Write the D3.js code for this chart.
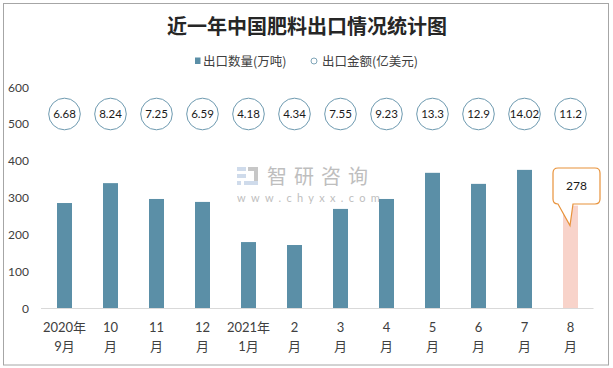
<!DOCTYPE html>
<html><head><meta charset="utf-8">
<script src="https://cdn.jsdelivr.net/npm/d3@7"></script>
<style>
html,body{margin:0;padding:0;background:#fff;}
svg{display:block;}
text{font-family:Lato,"Noto Sans CJK SC",sans-serif;}
</style></head>
<body>
<script>
const categories = ["2020年\n9月","10\n月","11\n月","12\n月","2021年\n1月","2\n月","3\n月","4\n月","5\n月","6\n月","7\n月","8\n月"];
const quantity = [285, 339, 296, 288, 179, 171, 269, 296, 367, 337, 375, 278];
const amount = ["6.68","8.24","7.25","6.59","4.18","4.34","7.55","9.23","13.3","12.9","14.02","11.2"];
const yTicks = [0,100,200,300,400,500,600];
const title = "近一年中国肥料出口情况统计图";
const legendNames = ["出口数量(万吨)","出口金额(亿美元)"];

const W=613,H=368;
const svg=d3.select("body").append("svg").attr("width",W).attr("height",H);
svg.append("rect").attr("x",3.5).attr("y",3.5).attr("width",605).attr("height",361.5)
  .attr("fill","#fff").attr("stroke","#a6a6a6").attr("stroke-width",1);

svg.append("text").attr("x",307).attr("y",34).attr("text-anchor","middle")
  .attr("font-size",20).attr("font-weight","bold").attr("fill","#262626")
  .style("font-family","'Noto Sans CJK SC',sans-serif").text(title);

// legend
svg.append("rect").attr("x",195).attr("y",57.5).attr("width",5.5).attr("height",6.5).attr("fill","#5b8fa7");
svg.append("text").attr("x",203).attr("y",65.5).attr("font-size",12.5).attr("fill","#404040")
  .style("font-family","'Noto Sans CJK SC',sans-serif").text(legendNames[0]);
svg.append("circle").attr("cx",314).attr("cy",61).attr("r",3).attr("fill","#fff").attr("stroke","#7fa5b8").attr("stroke-width",1);
svg.append("text").attr("x",322).attr("y",65.5).attr("font-size",12.5).attr("fill","#404040")
  .style("font-family","'Noto Sans CJK SC',sans-serif").text(legendNames[1]);

const x=d3.scaleBand().domain(categories).range([41.5,593.5]).paddingInner(0.674).paddingOuter(0.337);
const y=d3.scaleLinear().domain([0,600]).range([308,87]);

// watermark
const wm=svg.append("g").attr("opacity",0.55);
wm.append("rect").attr("x",237).attr("y",167).attr("width",9).attr("height",4).attr("fill","#a9bfdc");
wm.append("rect").attr("x",237).attr("y",174).attr("width",9).attr("height",4).attr("fill","#a9bfdc");
wm.append("rect").attr("x",237).attr("y",181).attr("width",4).attr("height",4).attr("fill","#a9bfdc");
wm.append("rect").attr("x",248).attr("y",167).attr("width",10).attr("height",4).attr("fill","#9a9a9a");
wm.append("rect").attr("x",254).attr("y",167).attr("width",4).attr("height",18).attr("fill","#9a9a9a");
wm.append("rect").attr("x",244).attr("y",181).attr("width",14).attr("height",4).attr("fill","#a9bfdc");
wm.append("text").attr("x",267).attr("y",184).attr("font-size",20).attr("letter-spacing",7).attr("fill","#8a8a8a")
  .style("font-family","'Noto Sans CJK SC',sans-serif").text("智研咨询");
wm.append("text").attr("x",237).attr("y",202).attr("font-size",11).attr("letter-spacing",5.3).attr("fill","#8a8a8a")
  .text("www.chyxx.com");

// y axis labels
svg.append("g").selectAll("text").data(yTicks).join("text")
  .attr("x",29).attr("y",d=>y(d)+4.5).attr("text-anchor","end")
  .attr("font-size",12).attr("fill","#404040").text(d=>d);

// bars
svg.append("g").selectAll("rect").data(quantity).join("rect")
  .attr("x",(d,i)=>x(categories[i])).attr("width",x.bandwidth())
  .attr("y",d=>y(d)).attr("height",d=>y(0)-y(d))
  .attr("fill",(d,i)=>i===categories.length-1?"#f8d3ca":"#5b8fa7");

// baseline
svg.append("line").attr("x1",41).attr("x2",593.5).attr("y1",308.5).attr("y2",308.5)
  .attr("stroke","#d9d9d9").attr("stroke-width",1);

// x labels
const xl=svg.append("g").selectAll("text").data(categories).join("text")
  .attr("text-anchor","middle").attr("font-size",13).attr("fill","#404040")
  .style("font-family","Lato,'Noto Sans CJK SC',sans-serif");
xl.each(function(d){
  const t=d3.select(this); const cx=x(d)+x.bandwidth()/2;
  d.split("\n").forEach((s,k)=>{
    t.append("tspan").attr("x",cx).attr("y",332+k*19).text(s);
  });
});

// amount circles
const cg=svg.append("g").selectAll("g").data(amount).join("g")
  .attr("transform",(d,i)=>`translate(${x(categories[i])+x.bandwidth()/2},114)`);
cg.append("circle").attr("r",15.8).attr("fill","#fff").attr("stroke","#6e9ab0").attr("stroke-width",1);
cg.append("text").attr("text-anchor","middle").attr("y",4).attr("font-size",11.5).attr("fill","#1a1a1a").text(d=>d);

// callout for last bar
const li=categories.length-1;
const cx=x(categories[li])+x.bandwidth()/2;
const tipY=y(quantity[li])+20;
const bx=553,by=168,bw=47,bh=36,r=5;
const p=d3.path();
p.moveTo(bx+r,by);
p.lineTo(bx+bw-r,by); p.quadraticCurveTo(bx+bw,by,bx+bw,by+r);
p.lineTo(bx+bw,by+bh-r); p.quadraticCurveTo(bx+bw,by+bh,bx+bw-r,by+bh);
p.lineTo(cx+2.5,by+bh); p.lineTo(cx-0.5,tipY); p.lineTo(cx-12.5,by+bh);
p.lineTo(bx+r,by+bh); p.quadraticCurveTo(bx,by+bh,bx,by+bh-r);
p.lineTo(bx,by+r); p.quadraticCurveTo(bx,by,bx+r,by);
p.closePath();
svg.append("path").attr("d",p.toString()).attr("fill","#fff").attr("stroke","#e8923a").attr("stroke-width",1.2);
svg.append("text").attr("x",bx+bw/2).attr("y",by+bh/2+4).attr("text-anchor","middle")
  .attr("font-size",12).attr("fill","#1a1a1a").text(quantity[li]);
</script>
</body></html>
